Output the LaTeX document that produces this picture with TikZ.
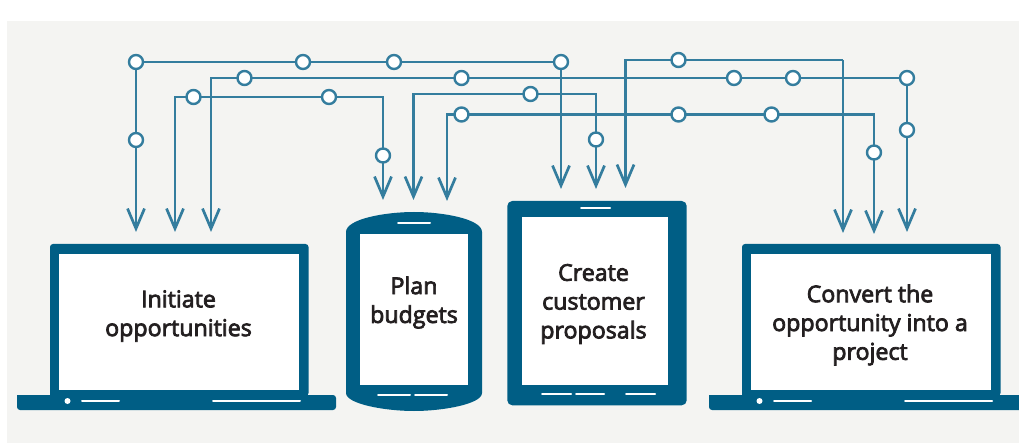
\documentclass[tikz,border=0pt]{standalone}
\usepackage{fontspec}
\newfontfamily\lblfont[FakeBold=3.2]{Open Sans}
\usetikzlibrary{arrows.meta}
\definecolor{bgc}{HTML}{F4F4F2}
\definecolor{wirec}{HTML}{347D9E}
\definecolor{devc}{HTML}{005E85}
\definecolor{txtc}{HTML}{231F20}
\tikzset{
  x=1pt,y=-1pt,
  dot/.style={circle,draw=wirec,fill=white,line width=2.4pt,minimum size=14pt,inner sep=0pt,outer sep=0pt},
  wire/.style={draw=wirec,line width=2.7pt,line join=miter},
  into/.style={wire,-{Straight Barb[length=20pt,width=17pt,line width=2.7pt]}},
  body/.style={fill=devc,draw=none},
  screen/.style={fill=white,draw=none},
  slit/.style={draw=white,line width=2pt,line cap=round},
  lbl/.style={font=\lblfont\fontsize{23.2}{28.8}\selectfont,text=txtc,align=center,inner sep=0pt},
}
\newcommand{\laptop}[1]{%
  \begin{scope}[shift={(#1,0)}]
    \fill[body,rounded corners=3pt] (50,396) -- (50,244) -- (308.5,244) -- (308.5,396) [sharp corners] -- cycle;
    \fill[body,rounded corners=3pt] (17,395) -- (17,410) -- (336,410) -- (336,395) [sharp corners] -- cycle;
    \fill[screen] (59,254) rectangle (299,390);
    \fill[white] (67.5,401) circle[radius=3];
    \draw[slit] (82,401) -- (119,401);
    \draw[slit] (213,401) -- (300,401);
  \end{scope}}
\begin{document}
\begin{tikzpicture}
\clip (0,0) rectangle (1019,443);
\fill[bgc] (7,21) rectangle (1019,443);
% devices
\laptop{0}
\laptop{692}
\fill[body] (346,232) .. controls (346,219) and (385,212) .. (414,212) .. controls (443,212) and (482,219) .. (482,232) -- (482,393) .. controls (482,404) and (443,411) .. (414,411) .. controls (385,411) and (346,404) .. (346,393) -- cycle;
\fill[screen] (360,234) rectangle (468,385);
\draw[slit] (398,223.5) -- (430,223.5);
\draw[slit] (378,395) -- (410,395);
\draw[slit] (415,395) -- (447,395);
\fill[body,rounded corners=5pt] (507.3,201) rectangle (686.7,405.3);
\fill[screen] (522,217) rectangle (668,385);
\draw[slit] (581,208.5) -- (610,208.5);
\draw[slit] (542,393.5) -- (571,393.5);
\draw[slit] (576,393.5) -- (604,393.5);
\draw[slit] (626,393.5) -- (655,393.5);
% labels
\node[lbl] (initiate) at (178.5,316) {Initiate\\opportunities};
\node[lbl] (plan) at (414,302.5) {Plan\\budgets};
\node[lbl] (create) at (593.5,304) {Create\\customer\\proposals};
\node[lbl] (convert) at (870,325) {Convert the\\opportunity into a\\project};
% connection points
\node[dot] (a1) at (136,62) {};
\node[dot] (a2) at (303,62) {};
\node[dot] (a3) at (394,62) {};
\node[dot] (a4) at (561,62) {};
\node[dot] (a5) at (136,140) {};
\node[dot] (b1) at (244.5,78) {};
\node[dot] (b2) at (461.5,78) {};
\node[dot] (b3) at (734,78) {};
\node[dot] (b4) at (793,78) {};
\node[dot] (b5) at (907,78) {};
\node[dot] (b6) at (907,130) {};
\node[dot] (c1) at (193.5,97) {};
\node[dot] (c2) at (329,97) {};
\node[dot] (c3) at (383,155.5) {};
\node[dot] (d1) at (530.5,94) {};
\node[dot] (d2) at (596,139.5) {};
\node[dot] (e1) at (461.5,114.5) {};
\node[dot] (e2) at (678.5,114.5) {};
\node[dot] (e3) at (771.5,114.5) {};
\node[dot] (e4) at (874,152.5) {};
\node[dot] (f1) at (678.5,60) {};
% free ends and corners
\coordinate (ta1) at (136,232);
\coordinate (ta4) at (561,189);
\coordinate (tb0) at (211,232);
\coordinate (kb) at (211,78);
\coordinate (tb6) at (907,232);
\coordinate (tc0) at (175,232);
\coordinate (kc0) at (175,97);
\coordinate (kc3) at (383,97);
\coordinate (tc3) at (383,200);
\coordinate (td0) at (413.5,200);
\coordinate (kd0) at (413.5,94);
\coordinate (kd2) at (596,94);
\coordinate (td2) at (596,189);
\coordinate (te0) at (447,201);
\coordinate (ke0) at (447,114.5);
\coordinate (ke4) at (874,114.5);
\coordinate (te4) at (874,234);
\coordinate (tf0) at (625.5,188);
\coordinate (kf0) at (625.5,60);
\coordinate (kf2) at (843,60);
\coordinate (tf2) at (843,233);
% connectors
\draw[wire] (a1) -- (a2);
\draw[wire] (a2) -- (a3);
\draw[wire] (a3) -- (a4);
\draw[wire] (a1) -- (a5);
\draw[into] (a5) -- (ta1);
\draw[into] (a4) -- (ta4);
\draw[wire,line cap=rect] (b1) -- (kb);
\draw[into] (kb) -- (tb0);
\draw[wire] (b1) -- (b2);
\draw[wire] (b2) -- (b3);
\draw[wire] (b3) -- (b4);
\draw[wire] (b4) -- (b5);
\draw[wire] (b5) -- (b6);
\draw[into] (b6) -- (tb6);
\draw[wire,line cap=rect] (c1) -- (kc0);
\draw[into] (kc0) -- (tc0);
\draw[wire] (c1) -- (c2);
\draw[wire] (c2) -- (kc3) -- (c3);
\draw[into] (c3) -- (tc3);
\draw[wire,line cap=rect] (d1) -- (kd0);
\draw[into] (kd0) -- (td0);
\draw[wire] (d1) -- (kd2) -- (d2);
\draw[into] (d2) -- (td2);
\draw[wire,line cap=rect] (e1) -- (ke0);
\draw[into] (ke0) -- (te0);
\draw[wire] (e1) -- (e2);
\draw[wire] (e2) -- (e3);
\draw[wire] (e3) -- (ke4) -- (e4);
\draw[into] (e4) -- (te4);
\draw[wire,line cap=rect] (f1) -- (kf0);
\draw[into] (kf0) -- (tf0);
\draw[wire] (f1) -- (kf2);
\draw[into] (kf2) -- (tf2);
\end{tikzpicture}
\end{document}
